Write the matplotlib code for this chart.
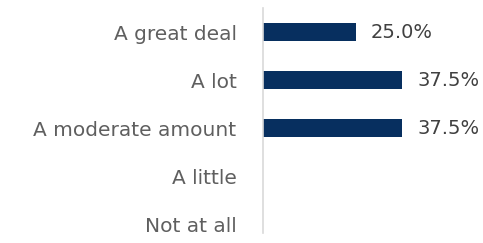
import matplotlib
matplotlib.use("Agg")
import matplotlib.pyplot as plt

categories = ["A great deal", "A lot", "A moderate amount", "A little", "Not at all"]
values = [25.0, 37.5, 37.5, 0.0, 0.0]
value_labels = ["25.0%", "37.5%", "37.5%", "", ""]

plt.rcParams['font.family'] = ['DejaVu Sans']

W, H = 483, 243
fig = plt.figure(figsize=(W / 100, H / 100), dpi=100)
# axes spans x 263..483 px, y 8..248 px (top->bottom)
left = 263 / W
bottom = (H - 248) / H
ax = fig.add_axes([left, bottom, (W - 263) / W, 240 / H])

pos = list(range(len(categories)))
ax.barh(pos, values, height=0.38, color='#072F5F')
ax.set_ylim(4.5, -0.5)
ax.set_xlim(0, 220 / 3.7)

for p, v, lab in zip(pos, values, value_labels):
    if lab:
        ax.annotate(lab, xy=(v, p), xytext=(11, 0), textcoords='offset points',
                    va='center', ha='left', fontsize=14, color='#404040')

ax.set_yticks(pos)
ax.set_yticklabels(categories, fontsize=14.5, color='#5F5F5F')
ax.tick_params(axis='y', length=0, pad=19)
ax.set_xticks([])
for s in ['top', 'right', 'bottom']:
    ax.spines[s].set_visible(False)
ax.spines['left'].set_color('#D9D9D9')
ax.spines['left'].set_linewidth(1.2)
ax.spines['left'].set_bounds(-0.5, 4.19)

fig.savefig("out.png", dpi=100)
